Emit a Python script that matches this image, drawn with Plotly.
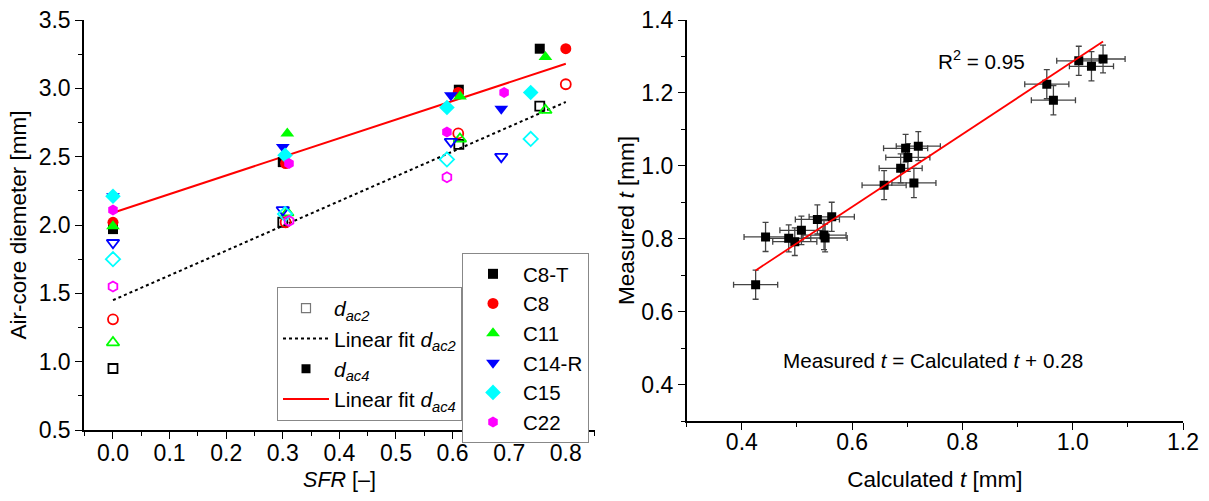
import plotly.graph_objects as go

# ---------------- Left panel data ----------------
categories = ["C8-T", "C8", "C11", "C14-R", "C15", "C22"]
colors = ["#000000", "#FF0000", "#00FF00", "#0000FF", "#00FFFF", "#FF00FF"]
sym_filled = ["square", "circle", "triangle-up", "triangle-down", "diamond", "hexagon"]
sym_open = ["square-open", "circle-open", "triangle-up-open", "triangle-down-open", "diamond-open", "hexagon-open"]
size_filled = [10, 11, 12, 12, 12, 11]
size_open = [9, 10, 11, 11, 11, 10]

sfr_c8t = [0.0, 0.300, 0.611, 0.754]
sfr_c8 = [0.0, 0.305, 0.610, 0.800]
sfr_c11 = [0.0, 0.308, 0.613, 0.764]
sfr_c14r = [0.0, 0.300, 0.597, 0.686]
sfr_c15 = [0.0, 0.304, 0.590, 0.738]
sfr_c22 = [0.0, 0.311, 0.590, 0.691]

dac4_c8t = [1.97, 2.46, 2.99, 3.29]
dac4_c8 = [2.02, 2.45, 2.97, 3.29]
dac4_c11 = [1.99, 2.67, 2.94, 3.23]
dac4_c14r = [2.21, 2.57, 2.95, 2.85]
dac4_c15 = [2.21, 2.51, 2.86, 2.97]
dac4_c22 = [2.11, 2.45, 2.68, 2.97]

dac2_c8t = [0.95, 2.02, 2.59, 2.87]
dac2_c8 = [1.31, 2.02, 2.67, 3.03]
dac2_c11 = [1.14, 2.09, 2.63, 2.84]
dac2_c14r = [1.87, 2.11, 2.61, 2.50]
dac2_c15 = [1.75, 2.08, 2.48, 2.63]
dac2_c22 = [1.55, 2.03, 2.35, None]

fit2_x = [0.0, 0.80]
fit2_y = [1.45, 2.90]
fit4_x = [0.0, 0.80]
fit4_y = [2.09, 3.18]

# ---------------- Right panel data ----------------
calc_t = [0.425, 0.443, 0.485, 0.496, 0.508, 0.537, 0.549, 0.551, 0.563, 0.658,
          0.688, 0.697, 0.701, 0.712, 0.720, 0.953, 0.965, 1.011, 1.034, 1.055]
meas_t = [0.674, 0.805, 0.801, 0.792, 0.823, 0.853, 0.810, 0.802, 0.860, 0.947,
          0.993, 1.048, 1.023, 0.953, 1.054, 1.224, 1.180, 1.288, 1.273, 1.293]
err_calc = [0.040, 0.039, 0.040, 0.040, 0.039, 0.040, 0.040, 0.040, 0.041, 0.040,
            0.039, 0.040, 0.040, 0.040, 0.040, 0.040, 0.040, 0.040, 0.040, 0.040]
err_meas = [0.040, 0.040, 0.037, 0.038, 0.039, 0.040, 0.040, 0.038, 0.040, 0.040,
            0.040, 0.038, 0.038, 0.040, 0.040, 0.040, 0.040, 0.040, 0.040, 0.038]
fitr_x = [0.425, 1.055]
fitr_y = [0.713, 1.341]

FONT = "Liberation Sans, Arial, sans-serif"

sfr = [sfr_c8t, sfr_c8, sfr_c11, sfr_c14r, sfr_c15, sfr_c22]
dac4 = [dac4_c8t, dac4_c8, dac4_c11, dac4_c14r, dac4_c15, dac4_c22]
dac2 = [dac2_c8t, dac2_c8, dac2_c11, dac2_c14r, dac2_c15, dac2_c22]

fig = go.Figure()

# legend-1 entries and fit lines
fig.add_trace(go.Scatter(x=[None], y=[None], mode="markers", name="<i>d</i><sub><i>ac2</i></sub>",
                         marker=dict(symbol="square-open", size=9, color="#777777", line=dict(width=1.2)),
                         legend="legend", xaxis="x", yaxis="y"))
fig.add_trace(go.Scatter(x=fit2_x, y=fit2_y, mode="lines", name="Linear fit <i>d</i><sub><i>ac2</i></sub>",
                         line=dict(color="black", width=2, dash="dot"), legend="legend", xaxis="x", yaxis="y"))
fig.add_trace(go.Scatter(x=[None], y=[None], mode="markers", name="<i>d</i><sub><i>ac4</i></sub>",
                         marker=dict(symbol="square", size=9, color="black"),
                         legend="legend", xaxis="x", yaxis="y"))
fig.add_trace(go.Scatter(x=fit4_x, y=fit4_y, mode="lines", name="Linear fit <i>d</i><sub><i>ac4</i></sub>",
                         line=dict(color="#FF0000", width=2), legend="legend", xaxis="x", yaxis="y"))

# open markers (d_ac2)
for i, c in enumerate(categories):
    fig.add_trace(go.Scatter(x=sfr[i], y=dac2[i], mode="markers", name=c + " dac2", showlegend=False,
                             marker=dict(symbol=sym_open[i], size=size_open[i], color=colors[i],
                                         line=dict(width=1.8)),
                             xaxis="x", yaxis="y"))
# filled markers (d_ac4)
for i, c in enumerate(categories):
    fig.add_trace(go.Scatter(x=sfr[i], y=dac4[i], mode="markers", name=c,
                             marker=dict(symbol=sym_filled[i], size=size_filled[i], color=colors[i]),
                             legend="legend2", xaxis="x", yaxis="y"))

# right panel
fig.add_trace(go.Scatter(x=calc_t, y=meas_t, mode="markers", showlegend=False,
                         marker=dict(symbol="square", size=9, color="black"),
                         error_x=dict(type="data", array=err_calc, color="#444444", thickness=1.3, width=3),
                         error_y=dict(type="data", array=err_meas, color="#444444", thickness=1.3, width=3),
                         xaxis="x2", yaxis="y2"))
fig.add_trace(go.Scatter(x=fitr_x, y=fitr_y, mode="lines", showlegend=False,
                         line=dict(color="#FF0000", width=1.8), xaxis="x2", yaxis="y2"))

axis_common = dict(showline=True, linecolor="black", linewidth=1.5, ticks="outside", ticklen=7,
                   tickwidth=1.3, tickcolor="black", showgrid=False, zeroline=False,
                   automargin=False,
                   tickfont=dict(family=FONT, size=23, color="black"))

minor_common = dict(ticks="outside", ticklen=4, tickcolor="black", tickwidth=1.3)

fig.update_layout(
    width=1209, height=501, margin=dict(l=0, r=0, t=0, b=0, autoexpand=False),
    paper_bgcolor="white", plot_bgcolor="white",
    font=dict(family=FONT, size=21, color="black"),
    xaxis=dict(domain=[84 / 1209, 595 / 1209], range=[-0.0512, 0.8516], anchor="y",
               tickmode="array", tickvals=[0, 0.1, 0.2, 0.3, 0.4, 0.5, 0.6, 0.7, 0.8],
               ticktext=["0.0", "0.1", "0.2", "0.3", "0.4", "0.5", "0.6", "0.7", "0.8"],
               minor=dict(tickmode="linear", tick0=0.05, dtick=0.1, **minor_common),
               ticklabelstandoff=-5,
               title=dict(text="<i>SFR</i> [–]", font=dict(size=21.5), standoff=7),
               **axis_common),
    yaxis=dict(domain=[1 - 430 / 501, 1 - 20 / 501], range=[0.5, 3.5], anchor="x",
               tick0=0.5, dtick=0.5, tickformat=".1f",
               minor=dict(tick0=0.25, dtick=0.5, **minor_common),
               title=dict(text="Air-core diemeter [mm]", font=dict(size=22.5), standoff=6),
               **axis_common),
    xaxis2=dict(domain=[686.7 / 1209, 1183 / 1209], range=[0.3, 1.2], anchor="y2",
                tick0=0.4, dtick=0.2, tickformat=".1f",
                minor=dict(tick0=0.3, dtick=0.2, **minor_common),
                ticklabelstandoff=-7,
                title=dict(text="Calculated <i>t</i> [mm]", font=dict(size=22.5), standoff=17),
                **axis_common),
    yaxis2=dict(domain=[1 - 421 / 501, 1 - 20 / 501], range=[0.3, 1.4], anchor="x2",
                tick0=0.4, dtick=0.2, tickformat=".1f",
                minor=dict(tick0=0.3, dtick=0.2, **minor_common),
                title=dict(text="Measured <i>t</i> [mm]", font=dict(size=22.5), standoff=0),
                **axis_common),
    legend=dict(x=277 / 1209, y=1 - 287 / 501, xanchor="left", yanchor="top",
                bordercolor="#888888", borderwidth=1, bgcolor="white",
                font=dict(family=FONT, size=21), itemwidth=46, tracegroupgap=0,
                traceorder="normal"),
    legend2=dict(x=462 / 1209, y=1 - 253 / 501, xanchor="left", yanchor="top",
                 bordercolor="#888888", borderwidth=1, bgcolor="white",
                 font=dict(family=FONT, size=20.5), itemwidth=50, tracegroupgap=0,
                 traceorder="normal"),
    annotations=[
        dict(x=0.835, y=1.29, xref="x2", yref="y2", text="R<sup>2</sup> = 0.95", showarrow=False,
             font=dict(family=FONT, size=20.7)),
        dict(x=0.746, y=0.466, xref="x2", yref="y2",
             text="Measured <i>t</i> = Calculated <i>t</i> + 0.28", showarrow=False,
             font=dict(family=FONT, size=20.7)),
    ],
)

fig.write_html("out.html", config={"displayModeBar": False},
               post_script="document.body.style.margin='0px';document.body.style.overflow='hidden';")
